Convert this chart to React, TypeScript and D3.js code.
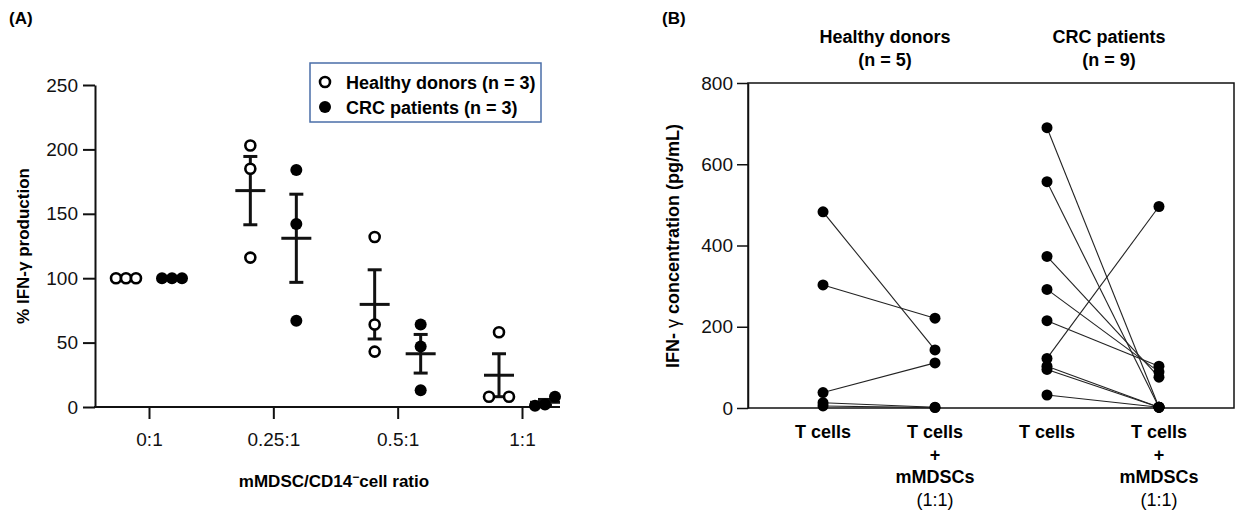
import React, { useEffect, useRef } from 'react';
import * as d3 from 'd3';

// panel A: % IFN-g production by mMDSC ratio
const ratioLabels = ['0:1', '0.25:1', '0.5:1', '1:1'];
const healthyPct = [[100, 100, 100], [203, 185, 116], [132, 64, 43], [58, 8, 8]];
const crcPct = [[100, 100, 100], [184, 142, 67], [64, 47, 13], [1, 8, 2]];
const pctTicks = [0, 50, 100, 150, 200, 250];
const legendLabels = ['Healthy donors (n = 3)', 'CRC patients (n = 3)'];

// panel B: paired IFN-g concentrations
const conditionKeys = ['hdT', 'hdMix', 'crcT', 'crcMix'];
const conditionLines = [
  ['T cells'],
  ['T cells', '+', 'mMDSCs', '(1:1)'],
  ['T cells'],
  ['T cells', '+', 'mMDSCs', '(1:1)'],
];
const groupTitles = [['Healthy donors', '(n = 5)'], ['CRC patients', '(n = 9)']];
const hdTcells = [483, 303, 38, 13, 5];
const hdMix = [143, 221, 111, 2, 1];
const crcTcells = [690, 557, 373, 292, 215, 122, 103, 95, 32];
const crcMix = [2, 2, 76, 89, 103, 496, 2, 2, 2];
const concTicks = [0, 200, 400, 600, 800];

const FONT = '"Liberation Sans", Arial, Helvetica, sans-serif';

// spread points that would overlap (simple beeswarm)
const swarm = (vals: number[], y: (v: number) => number) => {
  const pts = vals.map((v) => ({ v, py: y(v), dx: 0 })).sort((a, b) => b.py - a.py);
  let i = 0;
  while (i < pts.length) {
    let j = i + 1;
    while (j < pts.length && Math.abs(pts[j].py - pts[j - 1].py) < 11) j++;
    const n = j - i;
    const step = n === 2 ? 20 : 10;
    for (let k = i; k < j; k++) pts[k].dx = (k - i - (n - 1) / 2) * step;
    i = j;
  }
  return pts;
};

const App = () => {
  const ref = useRef<SVGSVGElement>(null);

  useEffect(() => {
    document.body.style.margin = '0';
    const svg = d3.select(ref.current);
    svg.selectAll('*').remove();

    // ---------- panel A ----------
    const A = svg.append('g');
    const yA = d3.scaleLinear().domain([0, 250]).range([407, 85]);
    const xA = d3.scalePoint<string>().domain(ratioLabels).range([149, 522]);

    const yAxisA = A.append('g')
      .attr('transform', 'translate(95,0)')
      .call(d3.axisLeft(yA).tickValues(pctTicks).tickSize(12).tickPadding(5).tickSizeOuter(0));
    yAxisA.selectAll('path, line').attr('stroke', '#111').attr('stroke-width', 2);
    yAxisA.selectAll('text').attr('font-size', 19).attr('font-family', FONT).attr('fill', '#111');

    const xAxisA = A.append('g')
      .attr('transform', 'translate(0,407)')
      .call(d3.axisBottom(xA).tickSize(12).tickPadding(14));
    xAxisA.select('.domain').remove();
    xAxisA.selectAll('line').attr('stroke', '#111').attr('stroke-width', 2);
    xAxisA.selectAll('text').attr('font-size', 19).attr('font-family', FONT).attr('fill', '#111');
    A.append('line')
      .attr('x1', 94).attr('x2', 560).attr('y1', 407).attr('y2', 407)
      .attr('stroke', '#111').attr('stroke-width', 2);

    const seriesA = [
      { data: healthyPct, off: -23, open: true },
      { data: crcPct, off: 23, open: false },
    ];

    seriesA.forEach((s) => {
      s.data.forEach((vals, i) => {
        const cx = (xA(ratioLabels[i]) as number) + s.off;
        const m = d3.mean(vals) as number;
        const sem = (d3.deviation(vals) || 0) / Math.sqrt(vals.length);
        const g = A.append('g').attr('stroke', '#111').attr('stroke-width', 3);
        g.append('line').attr('x1', cx).attr('x2', cx).attr('y1', yA(m - sem)).attr('y2', yA(m + sem));
        g.append('line').attr('x1', cx - 7).attr('x2', cx + 7).attr('y1', yA(m + sem)).attr('y2', yA(m + sem));
        g.append('line').attr('x1', cx - 7).attr('x2', cx + 7).attr('y1', yA(m - sem)).attr('y2', yA(m - sem));
        g.append('line').attr('x1', cx - 15).attr('x2', cx + 15).attr('y1', yA(m)).attr('y2', yA(m));

        A.selectAll(null)
          .data(swarm(vals, yA))
          .enter()
          .append('circle')
          .attr('cx', (d) => cx + d.dx)
          .attr('cy', (d) => d.py)
          .attr('r', s.open ? 5 : 6)
          .attr('fill', s.open ? '#fff' : '#000')
          .attr('stroke', '#000')
          .attr('stroke-width', s.open ? 2.6 : 0);
      });
    });

    // legend
    A.append('rect')
      .attr('x', 310).attr('y', 63).attr('width', 231).attr('height', 59)
      .attr('fill', '#fff').attr('stroke', '#4a6ea8').attr('stroke-width', 1.5);
    legendLabels.forEach((lbl, i) => {
      const cy = 82 + i * 25;
      A.append('circle')
        .attr('cx', 325).attr('cy', cy).attr('r', i === 0 ? 5 : 6)
        .attr('fill', i === 0 ? '#fff' : '#000').attr('stroke', '#000').attr('stroke-width', i === 0 ? 2.6 : 0);
      A.append('text')
        .attr('x', 346).attr('y', cy + 6.5)
        .attr('font-family', FONT).attr('font-size', 18).attr('font-weight', 'bold')
        .text(lbl);
    });

    // axis titles
    const xt = A.append('text')
      .attr('x', 334).attr('y', 487).attr('text-anchor', 'middle')
      .attr('font-family', FONT).attr('font-size', 17).attr('font-weight', 'bold');
    xt.append('tspan').text('mMDSC/CD14');
    xt.append('tspan').attr('dy', -6).attr('font-size', 12).text('\u2212');
    xt.append('tspan').attr('dy', 6).text('cell ratio');

    A.append('text')
      .attr('transform', 'translate(29,246) rotate(-90)').attr('text-anchor', 'middle')
      .attr('font-family', FONT).attr('font-size', 17).attr('font-weight', 'bold')
      .text('% IFN-\u03b3 production');

    svg.append('text')
      .attr('x', 9).attr('y', 24)
      .attr('font-family', FONT).attr('font-size', 17).attr('font-weight', 'bold')
      .text('(A)');

    // ---------- panel B ----------
    const B = svg.append('g');
    const yB = d3.scaleLinear().domain([0, 800]).range([408, 83]);
    const xB = d3.scalePoint<string>().domain(conditionKeys).range([748, 1234]).padding(0.67);

    const yAxisB = B.append('g')
      .attr('transform', 'translate(748,0)')
      .call(d3.axisLeft(yB).tickValues(concTicks).tickSize(11).tickPadding(4).tickSizeOuter(0));
    yAxisB.selectAll('path, line').attr('stroke', '#111').attr('stroke-width', 1.5);
    yAxisB.selectAll('text').attr('font-size', 19).attr('font-family', FONT).attr('fill', '#111');

    B.append('rect')
      .attr('x', 748).attr('y', yB(800)).attr('width', 1234 - 748).attr('height', yB(0) - yB(800))
      .attr('fill', 'none').attr('stroke', '#111').attr('stroke-width', 1.5);

    const pairs = [
      { a: 'hdT', b: 'hdMix', pre: hdTcells, post: hdMix },
      { a: 'crcT', b: 'crcMix', pre: crcTcells, post: crcMix },
    ];
    pairs.forEach((p) => {
      const xa = xB(p.a) as number;
      const xb = xB(p.b) as number;
      p.pre.forEach((v, i) => {
        B.append('line')
          .attr('x1', xa).attr('y1', yB(v)).attr('x2', xb).attr('y2', yB(p.post[i]))
          .attr('stroke', '#222').attr('stroke-width', 1.1);
      });
      B.selectAll(null).data(p.pre).enter().append('circle')
        .attr('cx', xa).attr('cy', (d) => yB(d)).attr('r', 5.5).attr('fill', '#000');
      B.selectAll(null).data(p.post).enter().append('circle')
        .attr('cx', xb).attr('cy', (d) => yB(d)).attr('r', 5.5).attr('fill', '#000');
    });

    // category labels
    conditionKeys.forEach((k, i) => {
      const t = B.append('text')
        .attr('x', xB(k) as number).attr('y', 438).attr('text-anchor', 'middle')
        .attr('font-family', FONT).attr('font-size', 18);
      conditionLines[i].forEach((ln, j) => {
        t.append('tspan')
          .attr('x', xB(k) as number).attr('dy', j === 0 ? 0 : 22.5)
          .attr('font-weight', ln.startsWith('(') ? 'normal' : 'bold')
          .text(ln);
      });
    });

    groupTitles.forEach((lines, gi) => {
      const cx = ((xB(conditionKeys[gi * 2]) as number) + (xB(conditionKeys[gi * 2 + 1]) as number)) / 2 + 6;
      lines.forEach((ln, j) => {
        B.append('text')
          .attr('x', cx).attr('y', 43 + j * 23).attr('text-anchor', 'middle')
          .attr('font-family', FONT).attr('font-size', 18).attr('font-weight', 'bold')
          .text(ln);
      });
    });

    const yt = B.append('text')
      .attr('transform', 'translate(679,246) rotate(-90)').attr('text-anchor', 'middle')
      .attr('font-family', FONT).attr('font-size', 18).attr('font-weight', 'bold');
    yt.append('tspan').text('IFN- ');
    yt.append('tspan').attr('font-weight', 'normal').text('\u03b3');
    yt.append('tspan').text(' concentration (pg/mL)');

    svg.append('text')
      .attr('x', 662).attr('y', 24)
      .attr('font-family', FONT).attr('font-size', 17).attr('font-weight', 'bold')
      .text('(B)');
  }, []);

  return <svg ref={ref} width={1239} height={512} style={{ display: 'block', background: '#fff' }} />;
};

export default App;
